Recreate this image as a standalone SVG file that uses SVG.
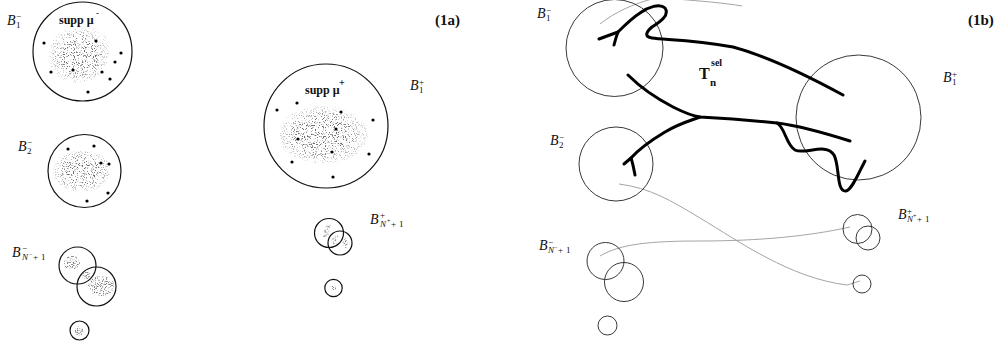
<svg xmlns="http://www.w3.org/2000/svg" width="1001" height="346" viewBox="0 0 1001 346">
<style>
.ball{fill:none;stroke:#111;stroke-width:1.2}
.ballr{fill:none;stroke:#222;stroke-width:0.9}
.pt{fill:#000}
.lbl{font-family:"Liberation Serif",serif;font-style:italic;font-size:14px;fill:#111}
.sm{font-family:"Liberation Serif",serif;font-size:9px;fill:#111}
.smi{font-family:"Liberation Serif",serif;font-style:italic;font-size:9px;fill:#111}
.tiny{font-family:"Liberation Serif",serif;font-size:6px;fill:#111}
.bold{font-family:"Liberation Serif",serif;font-weight:bold;fill:#111}
.blob{fill:url(#fade);filter:url(#speck)}
.sblob{fill:#000;filter:url(#speck2)}
.gray{fill:none;stroke:#9a9a9a;stroke-width:0.9}
.tree{fill:none;stroke:#000;stroke-width:3;stroke-linecap:round;stroke-linejoin:round}
</style>
<defs>
<radialGradient id="fade"><stop offset="0.55" stop-color="#000" stop-opacity="1"/><stop offset="1" stop-color="#000" stop-opacity="0.2"/></radialGradient>
<filter id="speck" x="-10%" y="-10%" width="120%" height="120%" color-interpolation-filters="sRGB">
<feTurbulence type="fractalNoise" baseFrequency="0.9" numOctaves="2" seed="7"/>
<feColorMatrix type="matrix" values="0 0 0 0 0.42 0 0 0 0 0.42 0 0 0 0 0.42 7 0 0 0 -3.9"/>
<feComposite in2="SourceGraphic" operator="in"/>
</filter>
<filter id="speck2" x="-10%" y="-10%" width="120%" height="120%" color-interpolation-filters="sRGB">
<feTurbulence type="fractalNoise" baseFrequency="0.9" numOctaves="2" seed="3"/>
<feColorMatrix type="matrix" values="0 0 0 0 0.5 0 0 0 0 0.5 0 0 0 0 0.5 6 0 0 0 -3.1"/>
<feComposite in2="SourceGraphic" operator="in"/>
</filter>
</defs>
<rect width="1001" height="346" fill="#fff"/>

<!-- Panel 1a -->
<g id="B1minus_a">
<circle class="ball" cx="82.5" cy="51.5" r="49.5"/>
<path class="blob" d="M51,45 C54,29 75,25 96,28 C111,32 111,50 107,62 C105,76 92,84 78,83 C61,83 49,72 49,60 C48,54 49,50 51,45Z"/>
<text class="bold" x="59" y="24" font-size="12">supp μ</text>
<text class="bold" x="96" y="16" font-size="9">-</text>
<g class="pt"><circle cx="44" cy="43" r="1.6"/><circle cx="51" cy="72" r="1.6"/><circle cx="73" cy="70" r="1.6"/><circle cx="96" cy="41" r="1.6"/><circle cx="102" cy="72" r="1.6"/><circle cx="110" cy="79" r="1.6"/><circle cx="115" cy="62" r="1.6"/><circle cx="121" cy="53" r="1.6"/><circle cx="88" cy="92" r="1.6"/></g>
<text class="lbl" x="7" y="25">B</text><text class="sm" x="16" y="19">−</text><text class="sm" x="16" y="28">1</text>
</g>

<g id="B2minus_a">
<circle class="ball" cx="84.5" cy="171" r="36.5"/>
<ellipse class="blob" cx="82" cy="171" rx="29" ry="21"/>
<g class="pt"><circle cx="68" cy="149" r="1.6"/><circle cx="94" cy="146" r="1.6"/><circle cx="101" cy="163" r="1.6"/><circle cx="109" cy="164" r="1.6"/><circle cx="108" cy="193" r="1.6"/><circle cx="87" cy="201" r="1.6"/></g>
<text class="lbl" x="18" y="151">B</text><text class="sm" x="27" y="145">−</text><text class="sm" x="27" y="154">2</text>
</g>

<g id="BNminus_a">
<circle class="ball" cx="77.5" cy="265.5" r="18.5"/>
<circle class="ball" cx="96.5" cy="286.5" r="19.5"/>
<ellipse class="sblob" cx="72" cy="263" rx="8" ry="7"/>
<ellipse class="sblob" cx="101" cy="286" rx="13" ry="10"/>
<ellipse class="sblob" cx="86" cy="275" rx="4" ry="4"/>
<circle class="ball" cx="79.5" cy="330.5" r="9.5"/>
<ellipse class="sblob" cx="79" cy="331" rx="4.5" ry="4.5"/>
<text class="lbl" x="12" y="257">B</text><text class="sm" x="22" y="251">−</text><text class="smi" x="22" y="260">N</text><text class="tiny" x="29" y="256">−</text><text class="sm" x="33" y="260">+</text><text class="sm" x="41" y="260">1</text>
</g>

<text class="bold" x="435" y="25" font-size="15">(1a)</text>

<g id="B1plus_a">
<circle class="ball" cx="326" cy="126" r="62"/>
<ellipse class="blob" cx="323" cy="135" rx="45" ry="29"/>
<text class="bold" x="305" y="94" font-size="12">supp μ</text>
<text class="bold" x="339" y="86" font-size="10">+</text>
<g class="pt"><circle cx="297" cy="103" r="1.6"/><circle cx="277" cy="110" r="1.6"/><circle cx="341" cy="112" r="1.6"/><circle cx="373" cy="120" r="1.6"/><circle cx="336" cy="129" r="1.6"/><circle cx="298" cy="139" r="1.6"/><circle cx="332" cy="152" r="1.6"/><circle cx="369" cy="154" r="1.6"/><circle cx="292" cy="162" r="1.6"/><circle cx="333" cy="177" r="1.6"/></g>
<text class="lbl" x="410" y="90">B</text><text class="sm" x="419" y="85">+</text><text class="sm" x="419" y="93">1</text>
</g>

<g id="BNplus_a">
<circle class="ball" cx="329" cy="233" r="14.5"/>
<circle class="ball" cx="340" cy="243" r="12"/>
<ellipse class="sblob" cx="327" cy="231" rx="3" ry="7" transform="rotate(25 327 231)"/>
<ellipse class="sblob" cx="335" cy="240" rx="3" ry="5" transform="rotate(25 335 240)"/>
<ellipse class="sblob" cx="345" cy="243" rx="2.5" ry="5"/>
<circle class="ball" cx="333.5" cy="288" r="8.7"/>
<ellipse class="sblob" cx="333" cy="288" rx="3" ry="2"/>
<text class="lbl" x="370" y="224">B</text><text class="sm" x="380" y="218">+</text><text class="smi" x="380" y="227">N</text><text class="tiny" x="387" y="223">+</text><text class="sm" x="391" y="227">+</text><text class="sm" x="399" y="227">1</text>
</g>

<!-- Panel 1b -->
<text class="bold" x="968" y="25" font-size="15">(1b)</text>

<g id="connectors">
<path class="gray" d="M600,24 C615,12 635,3 656,-2"/>
<path class="gray" d="M676,-1 C700,1 725,3 742,6"/>
<path class="gray" d="M600,256 C620,244 650,241 700,241 C760,241 810,236 850,227"/>
<path class="gray" d="M619,184 C650,188 670,200 700,218 C740,242 790,278 847,285 L860,281"/>
</g>

<g id="B1minus_b">
<circle class="ballr" cx="614.5" cy="48" r="48.5"/>
<text class="lbl" x="537" y="18" font-size="13">B</text><text class="sm" x="546" y="13" font-size="8">−</text><text class="sm" x="546" y="21" font-size="8">1</text>
</g>
<g id="B2minus_b">
<circle class="ballr" cx="616" cy="164" r="37"/>
<text class="lbl" x="550" y="145" font-size="13">B</text><text class="sm" x="559" y="140" font-size="8">−</text><text class="sm" x="559" y="148" font-size="8">2</text>
</g>
<g id="BNminus_b">
<circle class="ballr" cx="605.5" cy="261" r="18.5"/>
<circle class="ballr" cx="624" cy="282" r="19.5"/>
<circle class="ballr" cx="607.5" cy="325.5" r="9.5"/>
<text class="lbl" x="539" y="250" font-size="13">B</text><text class="sm" x="548" y="245" font-size="8">−</text><text class="smi" x="548" y="253" font-size="8">N</text><text class="tiny" x="554" y="249">−</text><text class="sm" x="558" y="253" font-size="8">+</text><text class="sm" x="566" y="253" font-size="8">1</text>
</g>
<g id="B1plus_b">
<circle class="ballr" cx="858.5" cy="117.5" r="62.5"/>
<text class="lbl" x="943" y="82" font-size="13">B</text><text class="sm" x="952" y="77" font-size="8">+</text><text class="sm" x="952" y="85" font-size="8">1</text>
</g>
<g id="BNplus_b">
<circle class="ballr" cx="857.5" cy="229" r="14.5"/>
<circle class="ballr" cx="868" cy="238" r="12"/>
<circle class="ballr" cx="862" cy="284" r="9"/>
<text class="lbl" x="898" y="219" font-size="13">B</text><text class="sm" x="907" y="214" font-size="8">+</text><text class="smi" x="907" y="222" font-size="8">N</text><text class="tiny" x="913" y="218">+</text><text class="sm" x="917" y="222" font-size="8">+</text><text class="sm" x="925" y="222" font-size="8">1</text>
</g>

<g id="tree">
<path class="tree" d="M599,39 L618,32 C625,25 632,18 640,13 C648,7 660,3 665,8 C670,15 660,22 652,27 C646,32 644,37 652,38 C665,40 690,39 733,47 C770,57 810,77 843,95"/>
<path class="tree" d="M618,32 C616,37 615,41 614,45"/>
<path class="tree" d="M628,75 C638,85 650,95 673,107 C685,113 692,116 700,117 C720,118 740,119 777,123 C795,125 815,130 850,141"/>
<path class="tree" d="M700,117 C690,121 680,123 665,132 C650,141 640,148 631,158 L624,164"/>
<path class="tree" d="M631,158 C633,164 634,170 635,175"/>
<path class="tree" stroke-width="3.4" d="M777,123 C785,127 786,145 795,150 C805,155 826,142 834,155 C840,166 836,192 846,191 C852,190 860,170 865,161"/>
<text class="bold" x="699" y="79" font-size="16">T</text>
<text class="bold" x="710" y="86" font-size="11">n</text>
<text class="bold" x="711" y="66" font-size="10">sel</text>
</g>
</svg>
